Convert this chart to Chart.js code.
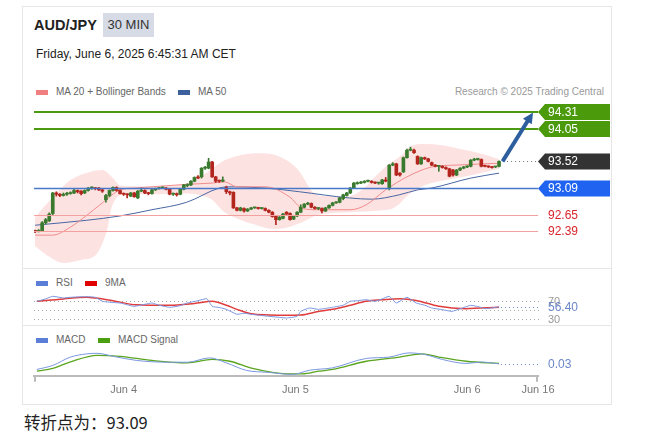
<!DOCTYPE html>
<html>
<head>
<meta charset="utf-8">
<script src="https://cdn.jsdelivr.net/npm/chart.js@4.4.1/dist/chart.umd.min.js"></script>
<style>
    body { margin: 0; width: 670px; height: 443px; background: #fff; position: relative; overflow: hidden;
           font-family: "Liberation Sans", Arial, sans-serif; }
    .abs { position: absolute; white-space: nowrap; }
    .sw { position: absolute; width: 12px; height: 5px; }
    .lg { position: absolute; font-size: 10px; color: #666; line-height: 12px; white-space: nowrap; }
    canvas { position: absolute; left: 22px; }
</style>
</head>
<body>
<div class="abs" style="left:22px;top:6px;width:590px;height:399px;border:1px solid #e6e6e6;box-sizing:border-box;"></div>
<div class="abs" style="left:22px;top:268px;width:590px;height:1px;background:#e6e6e6;"></div>
<div class="abs" style="left:22px;top:325px;width:590px;height:1px;background:#e6e6e6;"></div>

<div class="abs" style="left:34px;top:16px;font-weight:bold;font-size:14.5px;line-height:18px;color:#222;">AUD/JPY</div>
<div class="abs" style="left:103px;top:13px;width:51px;height:24px;background:#d6dbe6;font-size:13px;line-height:24px;text-align:center;color:#333;">30 MIN</div>
<div class="abs" style="left:36px;top:46px;font-size:12px;line-height:16px;color:#222;">Friday, June 6, 2025 6:45:31 AM CET</div>

<div class="sw" style="left:36px;top:90px;background:#f08080;"></div>
<div class="lg" style="left:56px;top:86px;">MA 20 + Bollinger Bands</div>
<div class="sw" style="left:178px;top:90px;background:#3d5f9c;"></div>
<div class="lg" style="left:198px;top:86px;">MA 50</div>
<div class="lg" style="right:66px;top:86px;color:#9a9a9a;">Research © 2025 Trading Central</div>

<div class="sw" style="left:36px;top:281px;background:#5b7fd6;"></div>
<div class="lg" style="left:56px;top:277px;">RSI</div>
<div class="sw" style="left:85px;top:281px;background:#e00000;"></div>
<div class="lg" style="left:105px;top:277px;">9MA</div>

<div class="sw" style="left:36px;top:338px;background:#5b7fd6;"></div>
<div class="lg" style="left:56px;top:334px;">MACD</div>
<div class="sw" style="left:98px;top:338px;background:#4aa010;"></div>
<div class="lg" style="left:118px;top:334px;">MACD Signal</div>

<canvas id="mainChart" width="590" height="168" style="top:100px;"></canvas>
<canvas id="rsiChart" width="590" height="57" style="top:268px;"></canvas>
<canvas id="macdChart" width="590" height="80" style="top:325px;"></canvas>

<div class="abs" style="left:24px;top:412px;font-size:16.5px;line-height:20px;color:#222;font-family:'Noto Sans CJK SC','Liberation Sans',sans-serif;">转折点为：93.09</div>

<script>
// Nến 30 phút (chỉ số 0 = nến đầu tiên)
const opens = [92.40,92.39,92.40,92.53,92.56,92.68,93.01,92.99,92.97,92.99,93.00,93.01,93.05,93.04,93.01,93.05,93.09,93.09,93.09,93.06,
    92.90,92.97,93.05,93.10,93.05,93.00,92.99,92.96,93.01,92.93,93.04,93.05,93.01,93.00,93.06,93.08,93.09,93.09,93.07,92.99,
    93.00,92.99,93.07,93.13,93.14,93.20,93.27,93.27,93.41,93.41,93.51,93.27,93.21,93.20,93.10,93.03,93.02,92.77,92.73,92.76,
    92.72,92.75,92.77,92.77,92.76,92.76,92.73,92.70,92.64,92.58,92.60,92.70,92.68,92.59,92.64,92.70,92.78,92.83,92.84,92.78,
    92.76,92.76,92.72,92.77,92.81,92.85,92.86,92.92,92.97,93.01,93.09,93.16,93.17,93.18,93.20,93.20,93.18,93.17,93.16,93.22,
    93.09,93.46,93.48,93.33,93.35,93.58,93.70,93.70,93.60,93.48,93.58,93.56,93.50,93.46,93.44,93.44,93.42,93.40,93.38,93.30,
    93.38,93.41,93.43,93.44,93.54,93.55,93.55,93.45,93.44,93.43,93.43,93.44];
const closes = [92.39,92.40,92.53,92.58,92.67,93.01,92.99,92.97,92.99,93.00,93.01,93.05,93.03,93.00,93.05,93.09,93.09,93.08,93.06,93.04,
    92.97,93.05,93.10,93.05,93.00,92.99,92.98,93.01,92.95,93.04,93.05,93.01,93.00,93.06,93.08,93.09,93.09,93.07,92.99,93.00,
    92.98,93.07,93.14,93.14,93.20,93.26,93.25,93.41,93.42,93.51,93.27,93.20,93.20,93.22,93.03,93.01,92.77,92.73,92.77,92.72,
    92.75,92.77,92.77,92.76,92.76,92.73,92.70,92.63,92.58,92.62,92.67,92.67,92.58,92.64,92.70,92.78,92.83,92.84,92.78,92.76,
    92.76,92.72,92.77,92.81,92.85,92.86,92.93,92.98,93.01,93.09,93.17,93.17,93.18,93.20,93.20,93.18,93.17,93.17,93.22,93.20,
    93.46,93.48,93.30,93.30,93.58,93.70,93.71,93.66,93.48,93.58,93.56,93.52,93.46,93.44,93.44,93.42,93.40,93.28,93.30,93.38,
    93.41,93.43,93.44,93.54,93.55,93.55,93.44,93.44,93.43,93.42,93.43,93.52];
const highs = [92.41,92.42,92.55,92.60,92.69,93.02,93.03,93.00,93.01,93.02,93.03,93.07,93.06,93.05,93.06,93.10,93.11,93.10,93.10,93.07,
    92.99,93.06,93.11,93.11,93.06,93.01,93.00,93.02,93.02,93.05,93.09,93.06,93.02,93.07,93.09,93.10,93.11,93.10,93.08,93.01,
    93.01,93.08,93.15,93.16,93.21,93.27,93.29,93.42,93.44,93.57,93.52,93.28,93.22,93.27,93.12,93.04,93.03,92.78,92.78,92.77,
    92.76,92.78,92.78,92.78,92.77,92.77,92.74,92.71,92.65,92.63,92.68,92.71,92.69,92.65,92.71,92.82,92.84,92.86,92.85,92.79,
    92.77,92.77,92.78,92.82,92.86,92.87,92.94,92.99,93.02,93.10,93.18,93.19,93.20,93.21,93.22,93.21,93.19,93.18,93.23,93.26,
    93.47,93.50,93.49,93.34,93.59,93.72,93.75,93.72,93.61,93.59,93.59,93.57,93.51,93.47,93.45,93.45,93.43,93.41,93.39,93.39,
    93.42,93.44,93.45,93.55,93.57,93.57,93.56,93.46,93.45,93.44,93.44,93.53];
const lows = [92.37,92.38,92.39,92.51,92.55,92.66,92.96,92.95,92.96,92.97,92.99,93.00,93.01,92.98,93.00,93.04,93.07,93.06,93.05,93.02,
    92.86,92.95,93.04,93.04,92.99,92.97,92.93,92.95,92.94,92.92,93.03,93.00,92.98,92.99,93.05,93.07,93.08,93.06,92.98,92.97,
    92.96,92.98,93.06,93.11,93.13,93.19,93.24,93.25,93.39,93.40,93.26,93.18,93.18,93.19,93.00,92.98,92.76,92.72,92.72,92.70,
    92.71,92.74,92.76,92.75,92.75,92.72,92.69,92.62,92.50,92.57,92.59,92.66,92.57,92.58,92.63,92.69,92.77,92.82,92.77,92.75,
    92.74,92.69,92.71,92.76,92.80,92.84,92.85,92.90,92.96,93.00,93.08,93.15,93.16,93.17,93.19,93.17,93.16,93.15,93.15,93.19,
    93.06,93.45,93.29,93.28,93.34,93.57,93.69,93.65,93.47,93.47,93.55,93.51,93.45,93.43,93.36,93.41,93.39,93.27,93.28,93.29,
    93.37,93.40,93.42,93.43,93.53,93.54,93.43,93.43,93.42,93.41,93.42,93.43];

// Bollinger Bands, MA 20, MA 50: [chỉ số nến, giá]
const bbUpper = [[0,92.62],[5,92.94],[10,93.22],[15.5,93.35],[19,93.38],[22,93.25],[24,93.13],[27,93.12],[35,93.12],[42,93.15],
    [45,93.22],[48,93.32],[51,93.45],[54,93.55],[58,93.62],[63,93.65],[68,93.62],[72,93.50],[75,93.33],[78,93.05],[81,92.96],
    [88,92.95],[92,93.05],[97,93.33],[100,93.48],[103,93.60],[106,93.76],[110,93.80],[115,93.78],[120,93.72],[125,93.66],[131,93.56]];
const bbLower = [[0,92.15],[4,91.98],[8,91.88],[13,91.93],[17,92.00],[19,92.20],[20.5,92.45],[21.5,92.75],[23,92.93],[25,92.99],
    [35,92.99],[42,93.00],[46,92.98],[50,92.90],[53,92.72],[57,92.60],[62,92.50],[67,92.43],[71,92.45],[75,92.53],[80,92.66],
    [89,92.70],[98,92.73],[101,92.76],[103,92.84],[105,92.96],[108,93.08],[112,93.17],[119,93.25],[125,93.32],[131,93.40]];
const ma20 = [[0,92.33],[5,92.33],[10,92.46],[14.6,92.65],[19,92.85],[24,93.06],[28.5,93.09],[43,93.15],[50,93.17],[53.5,93.19],
    [57,93.11],[65,93.11],[71.8,92.95],[75.5,92.76],[80,92.74],[89,92.74],[93.5,92.82],[99,93.06],[105,93.27],[112,93.43],
    [119,93.46],[131,93.49]];
const ma50 = [[0,92.49],[14.6,92.57],[24,92.64],[33,92.74],[42.8,92.86],[52,93.09],[54.6,93.11],[65,93.09],[74.6,93.03],
    [88.7,92.93],[95,92.91],[102.8,92.98],[108,93.06],[112,93.09],[123,93.25],[131,93.33]];

// Các mức giá
const targetLevels = [94.31, 94.05];
const lastPrice = 93.52;
const pivotLevel = 93.09;
const supportLevels = [92.65, 92.39];
const arrowFrom = [132, 93.52];
const arrowTo = [140.6, 94.31];

// RSI và 9MA
const rsi = [[0.5,68.7],[3,74],[5,79.8],[8,76],[10,77.6],[14,79],[17,77.6],[19,68.7],[22,66],[24,64.9],[26,61],[28,57.5],[31,62],
    [33,64.9],[35,60],[38,55.3],[41,59],[43,64.9],[46,70],[48.5,74.4],[50,57.5],[52,55],[54,50.8],[57,39.8],[59,42],[61,39.8],
    [64,37],[66,35.3],[69,33],[71,31.5],[74,35.3],[75,46.4],[77.5,53.8],[80,50.8],[84,55.3],[87,60],[89,68.7],[91,70],
    [93.5,72.2],[96,68.7],[98,74],[100,79.8],[102,64.9],[105,77.6],[107.6,64.9],[110,60],[112,53.8],[115,50],[117.7,46.4],
    [120,52],[123,59.7],[125,57],[127,52.3],[129,54],[131,56.4]];
const rsiMA = [[0.5,68.7],[8,74],[14.6,77.6],[17,76],[22,70],[28.5,61],[38,59.7],[45,64],[50,68.7],[54,60],[57,50.8],[61,41],
    [66,38.5],[71,37.6],[75,38],[80,46],[84,50.8],[89,60],[93.5,68.7],[98,72],[103,74.4],[107.6,70.7],[114,57.5],[121.5,52.3],[131,55.3]];
const rsiLevels = [70, 50, 30];
const rsiLast = 56.40;

// MACD và Signal
const macd = [[0.5,0.002],[5,0.022],[10,0.064],[14.6,0.08],[17.5,0.083],[22,0.068],[28.7,0.047],[38,0.038],[43,0.038],
    [49.3,0.06],[54,0.035],[59.7,-0.003],[66,-0.013],[72.7,-0.023],[77.5,-0.002],[84,0.01],[93.5,0.057],[100,0.064],
    [105.6,0.085],[110,0.077],[115,0.052],[121.7,0.032],[126,0.039],[131,0.03]];
const macdSignal = [[0.5,-0.007],[5,0.007],[10,0.04],[17.5,0.073],[24,0.068],[33,0.047],[43,0.035],[50,0.052],[55,0.043],
    [61.4,0.007],[71,-0.02],[75.5,-0.02],[80,-0.007],[84,0.002],[93.5,0.043],[103,0.064],[109.3,0.08],[114,0.064],
    [121.7,0.043],[131,0.032]];
const macdLast = 0.03;

// Trục thời gian
const tickPos = [25, 73.5, 122, 142];
const tickLabels = ['Jun 4', 'Jun 5', 'Jun 6', 'Jun 16'];

const FONT = '"Liberation Sans", Arial, sans-serif';
const xRange = { type: 'linear', min: -0.3, max: 142, offset: false, display: false };
const pad = { left: 12, right: 74, top: 0, bottom: 0 };
const toPts = arr => arr.map(p => ({ x: p[0], y: p[1] }));
const candleColors = opens.map((o, i) => closes[i] >= o ? '#3a7a2e' : '#b3261e');
const baseOpts = {
    responsive: false,
    animation: false,
    layout: { padding: pad },
    plugins: { legend: { display: false }, tooltip: { enabled: false } }
};

function drawTag(ctx, left, right, py, color, text) {
    ctx.fillStyle = color;
    ctx.beginPath();
    ctx.moveTo(left, py);
    ctx.lineTo(left + 7, py - 8);
    ctx.lineTo(right, py - 8);
    ctx.lineTo(right, py + 8);
    ctx.lineTo(left + 7, py + 8);
    ctx.closePath();
    ctx.fill();
    ctx.fillStyle = '#fff';
    ctx.font = '12px ' + FONT;
    ctx.textBaseline = 'middle';
    ctx.fillText(text, left + 10, py + 0.5);
}

function hLine(ctx, x1, x2, py, color, width, dash) {
    ctx.save();
    ctx.strokeStyle = color;
    ctx.lineWidth = width;
    ctx.setLineDash(dash || []);
    ctx.beginPath();
    ctx.moveTo(x1, py);
    ctx.lineTo(x2, py);
    ctx.stroke();
    ctx.restore();
}

// Vẽ các mức giá, nhãn và mũi tên
const levelsPlugin = {
    id: 'levels',
    afterDatasetsDraw(chart) {
        const { ctx, chartArea: a, scales: { x, y } } = chart;
        const tagRight = a.right + 72;
        ctx.save();
        supportLevels.forEach(v => {
            const py = Math.round(y.getPixelForValue(v)) + 0.5;
            hLine(ctx, a.left, a.right, py, '#f2a0a0', 1);
            ctx.fillStyle = '#d7262b';
            ctx.font = '12px ' + FONT;
            ctx.textBaseline = 'middle';
            ctx.fillText(v.toFixed(2), a.right + 10, py);
        });
        const pp = Math.round(y.getPixelForValue(pivotLevel)) + 0.5;
        hLine(ctx, a.left, a.right, pp, '#4a78c8', 1.5);
        drawTag(ctx, a.right, tagRight, pp, '#1f63f0', pivotLevel.toFixed(2));

        const lp = Math.round(y.getPixelForValue(lastPrice)) + 0.5;
        hLine(ctx, x.getPixelForValue(closes.length - 1) + 4, a.right, lp, '#777', 1, [1, 3]);
        drawTag(ctx, a.right, tagRight, lp, '#333', lastPrice.toFixed(2));

        targetLevels.forEach(v => {
            const py = Math.round(y.getPixelForValue(v));
            hLine(ctx, a.left, a.right, py, '#4b9a12', 2);
            drawTag(ctx, a.right, tagRight, py, '#4a9a0c', v.toFixed(2));
        });

        // Mũi tên hướng lên mục tiêu
        const x1 = x.getPixelForValue(arrowFrom[0]), y1 = y.getPixelForValue(arrowFrom[1]);
        const x2 = x.getPixelForValue(arrowTo[0]), y2 = y.getPixelForValue(arrowTo[1]);
        const ang = Math.atan2(y2 - y1, x2 - x1);
        const head = 12;
        ctx.strokeStyle = '#2d5f9e';
        ctx.fillStyle = '#2d5f9e';
        ctx.lineWidth = 4;
        ctx.beginPath();
        ctx.moveTo(x1, y1);
        ctx.lineTo(x2 - Math.cos(ang) * head * 0.8, y2 - Math.sin(ang) * head * 0.8);
        ctx.stroke();
        ctx.beginPath();
        ctx.moveTo(x2, y2);
        ctx.lineTo(x2 - head * Math.cos(ang - 0.45), y2 - head * Math.sin(ang - 0.45));
        ctx.lineTo(x2 - head * Math.cos(ang + 0.45), y2 - head * Math.sin(ang + 0.45));
        ctx.closePath();
        ctx.fill();
        ctx.restore();
    }
};

new Chart(document.getElementById('mainChart'), {
    type: 'bar',
    data: {
        datasets: [
            { type: 'line', label: 'BB upper', data: toPts(bbUpper), fill: '+1', backgroundColor: '#fde2e2',
              borderColor: 'transparent', borderWidth: 0, pointRadius: 0, cubicInterpolationMode: 'monotone', order: 10 },
            { type: 'line', label: 'BB lower', data: toPts(bbLower), fill: false, borderColor: 'transparent', borderWidth: 0,
              pointRadius: 0, cubicInterpolationMode: 'monotone', order: 10 },
            { type: 'line', label: 'MA 20', data: toPts(ma20), borderColor: '#f08c8c', borderWidth: 1, pointRadius: 0,
              cubicInterpolationMode: 'monotone', order: 5 },
            { type: 'line', label: 'MA 50', data: toPts(ma50), borderColor: '#4867a3', borderWidth: 1, pointRadius: 0,
              cubicInterpolationMode: 'monotone', order: 5 },
            { label: 'wick', data: opens.map((o, i) => ({ x: i, y: [lows[i], highs[i]] })), backgroundColor: candleColors,
              barThickness: 1, grouped: false, order: 2 },
            { label: 'body', data: opens.map((o, i) => ({ x: i, y: [o, closes[i]] })), backgroundColor: candleColors,
              barThickness: 3, minBarLength: 1, grouped: false, order: 1 }
        ]
    },
    options: {
        ...baseOpts,
        scales: {
            x: xRange,
            y: { type: 'linear', min: 91.80, max: 94.51, display: false }
        }
    },
    plugins: [levelsPlugin]
});

// RSI
const rsiPlugin = {
    id: 'rsiGuides',
    beforeDatasetsDraw(chart) {
        const { ctx, chartArea: a, scales: { x, y } } = chart;
        rsiLevels.forEach(v => {
            const py = Math.round(y.getPixelForValue(v)) + 0.5;
            hLine(ctx, a.left, a.right + 2, py, '#aaa', 1, [1, 3]);
            if (v !== 50) {
                ctx.fillStyle = '#999';
                ctx.font = '11px ' + FONT;
                ctx.textBaseline = 'middle';
                ctx.fillText(String(v), a.right + 10, py);
            }
        });
    },
    afterDatasetsDraw(chart) {
        const { ctx, chartArea: a, scales: { x, y } } = chart;
        const py = Math.round(y.getPixelForValue(rsiLast)) + 0.5;
        hLine(ctx, x.getPixelForValue(rsi[rsi.length - 1][0]) + 2, a.right, py, '#6b8ad8', 1, [1, 3]);
        ctx.fillStyle = '#6b86c8';
        ctx.font = '12px ' + FONT;
        ctx.textBaseline = 'middle';
        ctx.fillText(rsiLast.toFixed(2), a.right + 10, py);
    }
};

new Chart(document.getElementById('rsiChart'), {
    type: 'line',
    data: {
        datasets: [
            { label: 'RSI', data: toPts(rsi), borderColor: '#7b97e0', borderWidth: 1, pointRadius: 0, tension: 0.15 },
            { label: '9MA', data: toPts(rsiMA), borderColor: '#e03c3c', borderWidth: 1.5, pointRadius: 0,
              cubicInterpolationMode: 'monotone' }
        ]
    },
    options: {
        ...baseOpts,
        scales: {
            x: xRange,
            y: { type: 'linear', min: 16, max: 142.7, display: false }
        }
    },
    plugins: [rsiPlugin]
});

// MACD
const macdPlugin = {
    id: 'macdExtras',
    afterDatasetsDraw(chart) {
        const { ctx, chartArea: a, scales: { x, y } } = chart;
        const py = Math.round(y.getPixelForValue(macdLast)) + 0.5;
        hLine(ctx, x.getPixelForValue(macd[macd.length - 1][0]) + 2, a.right, py, '#6b8ad8', 1, [1, 3]);
        ctx.fillStyle = '#6b86c8';
        ctx.font = '12px ' + FONT;
        ctx.textBaseline = 'middle';
        ctx.fillText(macdLast.toFixed(2), a.right + 10, py);
    },
    afterDraw(chart) {
        const { ctx, chartArea: a } = chart;
        ctx.save();
        ctx.strokeStyle = '#bbb';
        ctx.lineWidth = 2;
        [a.left + 1, a.right - 1].forEach(px => {
            ctx.beginPath();
            ctx.moveTo(px, a.bottom);
            ctx.lineTo(px, a.bottom + 6);
            ctx.stroke();
        });
        ctx.restore();
    }
};

new Chart(document.getElementById('macdChart'), {
    type: 'line',
    data: {
        datasets: [
            { label: 'MACD', data: toPts(macd), borderColor: '#7b97e0', borderWidth: 1, pointRadius: 0,
              cubicInterpolationMode: 'monotone' },
            { label: 'MACD Signal', data: toPts(macdSignal), borderColor: '#5aa51e', borderWidth: 1.3, pointRadius: 0,
              cubicInterpolationMode: 'monotone' }
        ]
    },
    options: {
        ...baseOpts,
        scales: {
            x: {
                type: 'linear', min: -0.3, max: 142, offset: false,
                grid: { display: false, drawTicks: false },
                border: { display: true, color: '#bbb', width: 2 },
                afterBuildTicks: axis => { axis.ticks = tickPos.map(v => ({ value: v })); },
                ticks: {
                    autoSkip: false, maxRotation: 0, padding: 8, color: '#777',
                    font: { size: 11, family: FONT },
                    callback: v => tickLabels[tickPos.indexOf(v)]
                }
            },
            y: { type: 'linear', min: -0.03, max: 0.225, display: false }
        }
    },
    plugins: [macdPlugin]
});
</script>
</body>
</html>
